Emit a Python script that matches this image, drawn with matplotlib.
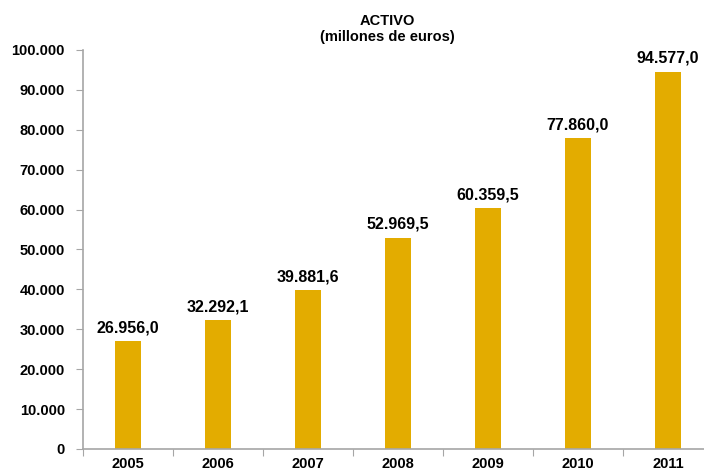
import numpy as np
import matplotlib.pyplot as plt
from matplotlib.ticker import FuncFormatter

# ---------- Data ----------
years = ["2005", "2006", "2007", "2008", "2009", "2010", "2011"]
activo = [26956.0, 32292.1, 39881.6, 52969.5, 60359.5, 77860.0, 94577.0]
y_ticks = [0, 10000, 20000, 30000, 40000, 50000, 60000, 70000, 80000, 90000, 100000]

BAR_COLOR = "#E3AC00"
AXIS_COLOR = "#A6A6A6"
FONT = "Liberation Sans"


def es_thousands(v, pos=None):
    return f"{int(v):,}".replace(",", ".")


def es_label(v):
    s = f"{v:,.1f}"
    return s.replace(",", "X").replace(".", ",").replace("X", ".")


fig = plt.figure(figsize=(7.04, 4.72), dpi=100)
ax = fig.add_axes([83 / 704, 23 / 472, 630 / 704, 399 / 472])

x = np.arange(len(years))
bars = ax.bar(x, activo, width=0.28, color=BAR_COLOR, zorder=2)

for b, v in zip(bars, activo):
    ax.text(b.get_x() + b.get_width() / 2, v + 2200, es_label(v),
            ha="center", va="baseline", fontsize=11.5, fontweight="bold",
            fontname=FONT)

ax.set_xlim(-0.5, len(years) - 0.5)
ax.set_ylim(0, 100000)
ax.set_yticks(y_ticks)
ax.yaxis.set_major_formatter(FuncFormatter(es_thousands))

# category boundaries carry the tick marks, labels sit at the centres
ax.set_xticks(np.arange(-0.5, len(years) + 0.5, 1.0))
ax.set_xticklabels([])
ax.set_xticks(x, minor=True)
ax.set_xticklabels(years, minor=True)
ax.tick_params(axis="x", which="minor", length=0, pad=6)
ax.tick_params(axis="x", which="major", length=5, color=AXIS_COLOR, direction="out")
ax.tick_params(axis="y", length=5, color=AXIS_COLOR, direction="out", pad=8)

for lbl in ax.get_yticklabels() + ax.get_xticklabels(minor=True):
    lbl.set_fontname(FONT)
    lbl.set_fontweight("bold")
    lbl.set_fontsize(10.5)

for side in ["top", "right"]:
    ax.spines[side].set_visible(False)
for side in ["left", "bottom"]:
    ax.spines[side].set_color(AXIS_COLOR)
    ax.spines[side].set_linewidth(1.2)

fig.text(387 / 704, 1 - 21 / 472, "ACTIVO", ha="center", va="center",
         fontsize=10.5, fontweight="bold", fontname=FONT)
fig.text(387 / 704, 1 - 37 / 472, "(millones de euros)", ha="center", va="center",
         fontsize=10.5, fontweight="bold", fontname=FONT)

fig.savefig("out.png", dpi=100)
